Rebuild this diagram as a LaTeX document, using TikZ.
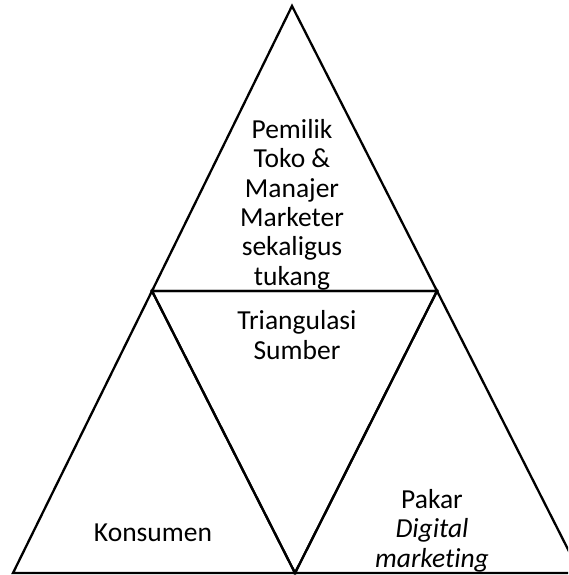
\documentclass[tikz,border=0pt]{standalone}
\usepackage{fontspec}
\setmainfont{Carlito}[Ligatures={NoCommon}]
\begin{document}
\begin{tikzpicture}[x=1pt,y=-1pt,
  tri/.style={draw=black, line width=2.3pt, line join=miter},
  lbl/.style={font=\fontsize{27.5}{29.3}\selectfont, align=center, inner sep=0pt, anchor=base}]
\useasboundingbox (0,0) rectangle (568,575);
\clip (0,0) rectangle (568,575);
\coordinate (A) at (292,6);
\coordinate (L) at (152,291);
\coordinate (R) at (437,291);
\coordinate (BL) at (13,573);
\coordinate (BM) at (295,573);
\coordinate (BR) at (580,573);
\draw[tri] (A) -- (R) -- (L) -- cycle;
\draw[tri] (L) -- (BM) -- (BL) -- cycle;
\draw[tri] (L) -- (R) -- (BM) -- cycle;
\draw[tri] (R) -- (BR) -- (BM) -- cycle;
\draw[tri] (BM) -- (568,573);
\node[lbl] (top) at (292,285) {Pemilik\\Toko \&\\Manajer\\Marketer\\sekaligus\\tukang};
\node[lbl] (mid) at (297,359) {Triangulasi\\Sumber};
\node[lbl] (kon) at (153,541) {Konsumen};
\node[lbl] (pak) at (432,567) {Pakar\\\textit{Digital}\\\textit{marketing}};
\end{tikzpicture}
\end{document}
